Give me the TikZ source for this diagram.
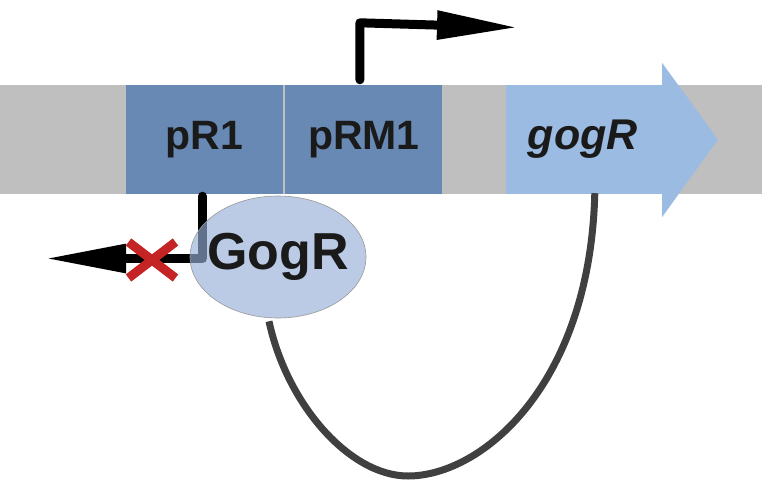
\documentclass[tikz,border=0pt]{standalone}
\usepackage{fontspec}
\setmainfont{Liberation Sans}
\usetikzlibrary{arrows.meta,positioning,shapes.geometric,shapes.misc}
\definecolor{dnagrey}{RGB}{191,191,191}
\definecolor{promblue}{RGB}{105,137,181}
\definecolor{geneblue}{RGB}{155,187,226}
\definecolor{protblue}{RGB}{150,175,215}
\definecolor{loopgrey}{RGB}{64,64,64}
\definecolor{blockred}{RGB}{196,36,36}
\definecolor{inktext}{RGB}{26,26,26}

\tikzset{
  promoter/.style={rectangle,fill=promblue,minimum width=157pt,minimum height=109pt,inner sep=0pt,
    text=inktext,font=\fontsize{41}{41}\selectfont\bfseries},
  genebody/.style={rectangle,fill=geneblue,minimum width=156pt,minimum height=109pt,inner sep=0pt,
    text=inktext,font=\fontsize{43}{43}\selectfont\bfseries\itshape},
  tss/.style={line width=9pt,line cap=round,line join=round,-{Triangle[length=81pt,width=27pt]}},
  protein/.style={ellipse,fill=protblue,fill opacity=0.65,draw=gray!80,line width=0.6pt,
    minimum width=176pt,minimum height=122pt,inner sep=0pt},
  protlabel/.style={text=inktext,text opacity=1,font=\fontsize{52}{52}\selectfont\bfseries},
  feedback/.style={line width=7pt,draw=loopgrey}
}

\begin{document}
\begin{tikzpicture}[x=1pt,y=-1pt]
  \useasboundingbox (0,0) rectangle (762,503);
  % DNA strand
  \fill[dnagrey] (0,85) rectangle (762,194);
  \node[promoter,minimum width=157pt] (pr1) at (204.5,139.5) {pR1};
  \node[promoter,right=2pt of pr1] (prm1) {pRM1};
  \node[genebody,right=63pt of prm1] (gene) {\hspace*{-2pt}gogR};
  \fill[geneblue] (gene.north east) -- ++(0,-22) -- ([xshift=56pt]gene.east) -- ([yshift=-23pt]gene.south east) -- (gene.south east) -- cycle;
  % promoters
  \draw[tss] ([xshift=-4pt,yshift=5pt]prm1.north) -- ++(0,-57) -- (518,27.5);
  \coordinate (pr1tip) at (45,258.5);
  \draw[tss] ([xshift=-2pt,yshift=-2pt]pr1.south) |- (pr1tip);
  \node[cross out,draw=blockred,line width=9pt,minimum width=38pt,minimum height=27pt,inner sep=0pt] (block) at (152,260) {};
  % repressor and loop
  \node[protein,label={[protlabel]center:GogR}] (gogr) at (278,257) {};
  \draw[feedback] ([xshift=11pt,yshift=1pt]gene.south) .. controls (590,385) and (482,476) .. (408,476)
    .. controls (350,476) and (287,405) .. ([xshift=-9pt,yshift=-3pt]gogr.south);
\end{tikzpicture}
\end{document}
